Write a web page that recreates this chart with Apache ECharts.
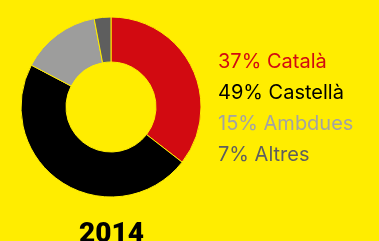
<!DOCTYPE html>
<html>
<head>
<meta charset="utf-8">
<script src="https://cdn.jsdelivr.net/npm/echarts@6/dist/echarts.min.js"></script>
<style>
  html, body { margin: 0; padding: 0; background: #FFED00; }
  #chart { width: 379px; height: 241px; }
</style>
</head>
<body>
<div id="chart"></div>
<script>
const categories = ["Català", "Castellà", "Ambdues", "Altres"];
const labelPercents = [37, 49, 15, 7];
// slice shares as drawn in the picture
const sliceValues = [35.5, 47.2, 14.3, 3.0];
const colors = ["#D20A11", "#000000", "#9D9D9C", "#5E5E5E"];
const legendColors = ["#D20A11", "#000000", "#A3A3A3", "#5E5E5E"];
const year = "2014";

const chart = echarts.init(document.getElementById("chart"));
chart.setOption({
  backgroundColor: "#FFED00",
  animation: false,
  title: {
    text: year,
    left: 74,
    top: 216,
    textStyle: { fontFamily: "Roboto", fontWeight: 900, fontSize: 28, color: "#000" }
  },
  legend: {
    orient: "vertical",
    left: 212,
    top: 52,
    padding: 0,
    itemWidth: 0,
    itemHeight: 0,
    itemGap: 11,
    icon: "rect",
    selectedMode: false,
    formatter: function (name) {
      const i = categories.indexOf(name);
      return labelPercents[i] + "% " + name;
    },
    data: categories.map((c, i) => ({
      name: c,
      textStyle: { color: legendColors[i], fontFamily: "Inter", fontSize: 20 }
    }))
  },
  series: [{
    type: "pie",
    center: [111, 107],
    radius: [45, 90],
    startAngle: 90,
    clockwise: true,
    label: { show: false },
    labelLine: { show: false },
    itemStyle: { borderColor: "#FFED00", borderWidth: 1 },
    data: categories.map((c, i) => ({
      name: c,
      value: sliceValues[i],
      itemStyle: { color: colors[i] }
    }))
  }]
});
</script>
</body>
</html>
